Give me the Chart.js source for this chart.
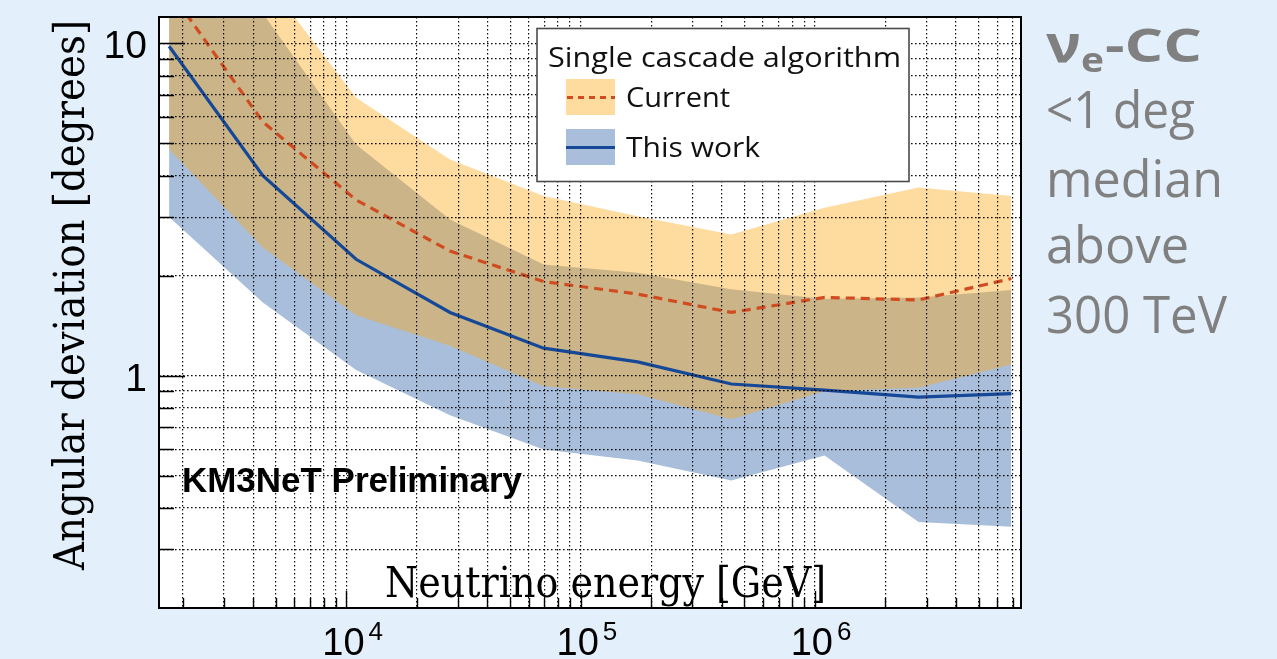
<!DOCTYPE html>
<html>
<head>
<meta charset="utf-8">
<script src="https://cdn.jsdelivr.net/npm/chart.js@4.4.1/dist/chart.umd.min.js"></script>
<style>
html,body{margin:0;padding:0;background:#E3F0FC;overflow:hidden;}
canvas{display:block;}
</style>
</head>
<body>
<canvas id="c" width="1277" height="659"></canvas>
<script>
// ---------------- data ----------------
const energies = [1.75e3, 4.4e3, 1.1e4, 2.77e4, 6.95e4, 1.75e5, 4.4e5, 1.1e6, 2.77e6, 6.9e6];
const thisWorkMedian = [9.8, 4.0, 2.24, 1.55, 1.21, 1.10, 0.944, 0.905, 0.862, 0.883];
const thisWorkUpper  = [25, 12.3, 4.96, 2.95, 2.16, 2.04, 1.82, 1.70, 1.72, 1.81];
const thisWorkLower  = [3.0, 1.66, 1.04, 0.76, 0.60, 0.556, 0.484, 0.575, 0.363, 0.351];
const currentMedian  = [14.5, 5.8, 3.38, 2.37, 1.92, 1.76, 1.55, 1.72, 1.69, 1.96];
const currentUpper   = [30, 16, 6.86, 4.47, 3.47, 3.02, 2.66, 3.20, 3.68, 3.47];
const currentLower   = [4.8, 2.43, 1.52, 1.23, 0.93, 0.88, 0.74, 0.90, 0.92, 1.08];

const xTickValues = [2e3,3e3,4e3,5e3,6e3,7e3,8e3,9e3,
                     1e4,2e4,3e4,4e4,5e4,6e4,7e4,8e4,9e4,
                     1e5,2e5,3e5,4e5,5e5,6e5,7e5,8e5,9e5,
                     1e6,2e6,3e6,4e6,5e6,6e6,7e6];
const yTickValues = [0.3,0.4,0.5,0.6,0.7,0.8,0.9,1,2,3,4,5,6,7,8,9,10];
const xLabelValues = [1e4, 1e5, 1e6];
const xLabelBase = '10';
const xLabelExps = ['4', '5', '6'];
const yLabelValues = [1, 10];
const yLabelTexts = ['1', '10'];

const xTitle = 'Neutrino energy [GeV]';
const yTitle = 'Angular deviation [degrees]';
const watermark = 'KM3NeT Preliminary';
const legendTitle = 'Single cascade algorithm';
const legendLabels = ['Current', 'This work'];
const sideHeadNu = 'ν', sideHeadSub = 'e', sideHeadRest = '-CC';
const sideLines = ['<1 deg', 'median', 'above', '300 TeV'];

// ---------------- styles ----------------
const C_BLUE_BAND = 'rgb(168,190,218)';
const C_ORANGE_BAND = 'rgba(253,169,24,0.42)';
const C_ORANGE_BOX = 'rgb(254,219,158)';
const C_BLUE_LINE = 'rgb(22,72,152)';
const C_DASH = 'rgb(208,76,32)';
const C_GRAY = 'rgb(128,128,128)';
const GRID_COLOR = 'rgba(0,0,0,0.95)';

function pts(arr){ return energies.map((e,i)=>({x:e, y:arr[i]})); }

function fitText(ctx, text, x, y, font, width, align){
  ctx.save();
  ctx.font = font;
  const w = ctx.measureText(text).width;
  const s = width ? width / w : 1;
  ctx.translate(x, y);
  ctx.scale(s, 1);
  ctx.textAlign = align || 'left';
  ctx.textBaseline = 'alphabetic';
  ctx.fillText(text, 0, 0);
  ctx.restore();
}

const decor = {
  id: 'decor',
  beforeDraw(chart){
    const {ctx, chartArea:a} = chart;
    ctx.save();
    ctx.fillStyle = '#ffffff';
    ctx.fillRect(a.left, a.top, a.right - a.left, a.bottom - a.top);
    ctx.restore();
  },
  afterDraw(chart){
    const {ctx, chartArea:a} = chart;
    const xs = chart.scales.x, ys = chart.scales.y;
    ctx.save();
    ctx.setLineDash([]);
    // inward tick marks
    ctx.strokeStyle = '#000'; ctx.lineWidth = 1.4;
    ctx.beginPath();
    xTickValues.forEach(v=>{
      const px = Math.round(xs.getPixelForValue(v)) + 0.5;
      const major = Math.abs(Math.log10(v) - Math.round(Math.log10(v))) < 1e-9;
      const L = major ? 17 : 10;
      ctx.moveTo(px, a.bottom); ctx.lineTo(px, a.bottom - L);
    });
    yTickValues.forEach(v=>{
      const py = Math.round(ys.getPixelForValue(v)) + 0.5;
      const major = Math.abs(Math.log10(v) - Math.round(Math.log10(v))) < 1e-9;
      const L = major ? 26 : 15;
      ctx.moveTo(a.left, py); ctx.lineTo(a.left + L, py);
    });
    ctx.stroke();
    // frame
    ctx.lineWidth = 2;
    ctx.strokeRect(a.left, a.top, a.right - a.left, a.bottom - a.top);

    // tick labels
    ctx.fillStyle = '#000';
    ctx.font = '39px "Liberation Sans"';
    ctx.textBaseline = 'alphabetic';
    yLabelValues.forEach((v,i)=>{
      const py = ys.getPixelForValue(v);
      ctx.textAlign = 'right';
      ctx.fillText(yLabelTexts[i], 147, py + 15);
    });
    xLabelValues.forEach((v,i)=>{
      const px = xs.getPixelForValue(v);
      ctx.font = '38px "Liberation Sans"';
      ctx.textAlign = 'left';
      const w10 = ctx.measureText(xLabelBase).width;
      ctx.fillText(xLabelBase, px - w10/2 - 3, 655);
      ctx.font = '26px "Liberation Sans"';
      ctx.fillText(xLabelExps[i], px + w10/2 + 1, 640);
    });

    // axis titles
    fitText(ctx, xTitle, 385, 597, '43px "DejaVu Serif"', 441, 'left');
    ctx.save();
    ctx.translate(84, 295);
    ctx.rotate(-Math.PI/2);
    fitText(ctx, yTitle, 0, 0, '42px "DejaVu Serif"', 550, 'center');
    ctx.restore();

    // watermark
    fitText(ctx, watermark, 182, 492, 'bold 35px "Liberation Sans"', 340, 'left');

    // legend
    ctx.fillStyle = '#ffffff';
    ctx.fillRect(537, 28.5, 372, 153);
    ctx.strokeStyle = '#4a4a4a'; ctx.lineWidth = 1.6;
    ctx.strokeRect(537, 28.5, 372, 153);
    ctx.fillStyle = '#111';
    fitText(ctx, legendTitle, 548, 67, '28px "Open Sans"', 353, 'left');
    fitText(ctx, legendLabels[0], 626, 107, '28px "Open Sans"', 104, 'left');
    fitText(ctx, legendLabels[1], 626, 157, '28px "Open Sans"', 134, 'left');
    ctx.fillStyle = C_ORANGE_BOX;
    ctx.fillRect(566, 79, 49, 36);
    ctx.fillStyle = C_BLUE_BAND;
    ctx.fillRect(566, 129, 49, 36);
    ctx.strokeStyle = C_DASH; ctx.lineWidth = 3; ctx.setLineDash([6,5]);
    ctx.beginPath(); ctx.moveTo(567, 97.5); ctx.lineTo(615, 97.5); ctx.stroke();
    ctx.setLineDash([]);
    ctx.strokeStyle = C_BLUE_LINE; ctx.lineWidth = 3;
    ctx.beginPath(); ctx.moveTo(566, 147.5); ctx.lineTo(615, 147.5); ctx.stroke();

    // side text
    ctx.fillStyle = C_GRAY;
    fitText(ctx, sideHeadNu, 1046, 62, 'bold 52px "Open Sans"', 35, 'left');
    fitText(ctx, sideHeadSub, 1081, 72, 'bold 34px "Open Sans"', 23, 'left');
    fitText(ctx, sideHeadRest, 1105, 62, 'bold 46px "Open Sans"', 97, 'left');
    const sideBase = [128, 197, 263, 333];
    const sideW = [149, 177, 143, 181];
    sideLines.forEach((t,i)=>{
      fitText(ctx, t, 1046, sideBase[i], '52px "Open Sans"', sideW[i], 'left');
    });
    ctx.restore();
  }
};

const noLine = 'rgba(0,0,0,0)';
new Chart(document.getElementById('c'), {
  type: 'line',
  data: {
    datasets: [
      {label:'This work lower', data: pts(thisWorkLower), borderColor: noLine, borderWidth: 0, pointRadius: 0, fill: false, order: 5},
      {label:'This work band', data: pts(thisWorkUpper), borderColor: noLine, borderWidth: 0, pointRadius: 0, fill: '-1', backgroundColor: C_BLUE_BAND, order: 4},
      {label:'Current lower', data: pts(currentLower), borderColor: noLine, borderWidth: 0, pointRadius: 0, fill: false, order: 3},
      {label:'Current band', data: pts(currentUpper), borderColor: noLine, borderWidth: 0, pointRadius: 0, fill: '-1', backgroundColor: C_ORANGE_BAND, order: 2},
      {label:'Current', data: pts(currentMedian), borderColor: C_DASH, borderWidth: 3.2, borderDash: [9,6], pointRadius: 0, fill: false, order: 1},
      {label:'This work', data: pts(thisWorkMedian), borderColor: C_BLUE_LINE, borderWidth: 3.2, pointRadius: 0, fill: false, order: 0}
    ]
  },
  options: {
    responsive: false,
    animation: false,
    devicePixelRatio: 1,
    layout: {padding: {left: 159, top: 17, right: 256, bottom: 51}},
    plugins: {legend: {display: false}, tooltip: {enabled: false}, filler: {drawTime: 'beforeDatasetDraw'}},
    elements: {line: {tension: 0}},
    scales: {
      x: {
        type: 'logarithmic', min: Math.pow(10, 3.2), max: Math.pow(10, 6.88),
        afterBuildTicks: (s)=>{ s.ticks = xTickValues.map(v=>({value:v})); },
        ticks: {display: false},
        border: {display: false, dash: [1.6,2.4]},
        grid: {z: 1, drawTicks: false, color: GRID_COLOR, lineWidth: 1.2}
      },
      y: {
        type: 'logarithmic', min: 0.2, max: 12,
        afterBuildTicks: (s)=>{ s.ticks = yTickValues.map(v=>({value:v})); },
        ticks: {display: false},
        border: {display: false, dash: [1.6,2.4]},
        grid: {z: 1, drawTicks: false, color: GRID_COLOR, lineWidth: 1.2}
      }
    }
  },
  plugins: [decor]
});
</script>
</body>
</html>
